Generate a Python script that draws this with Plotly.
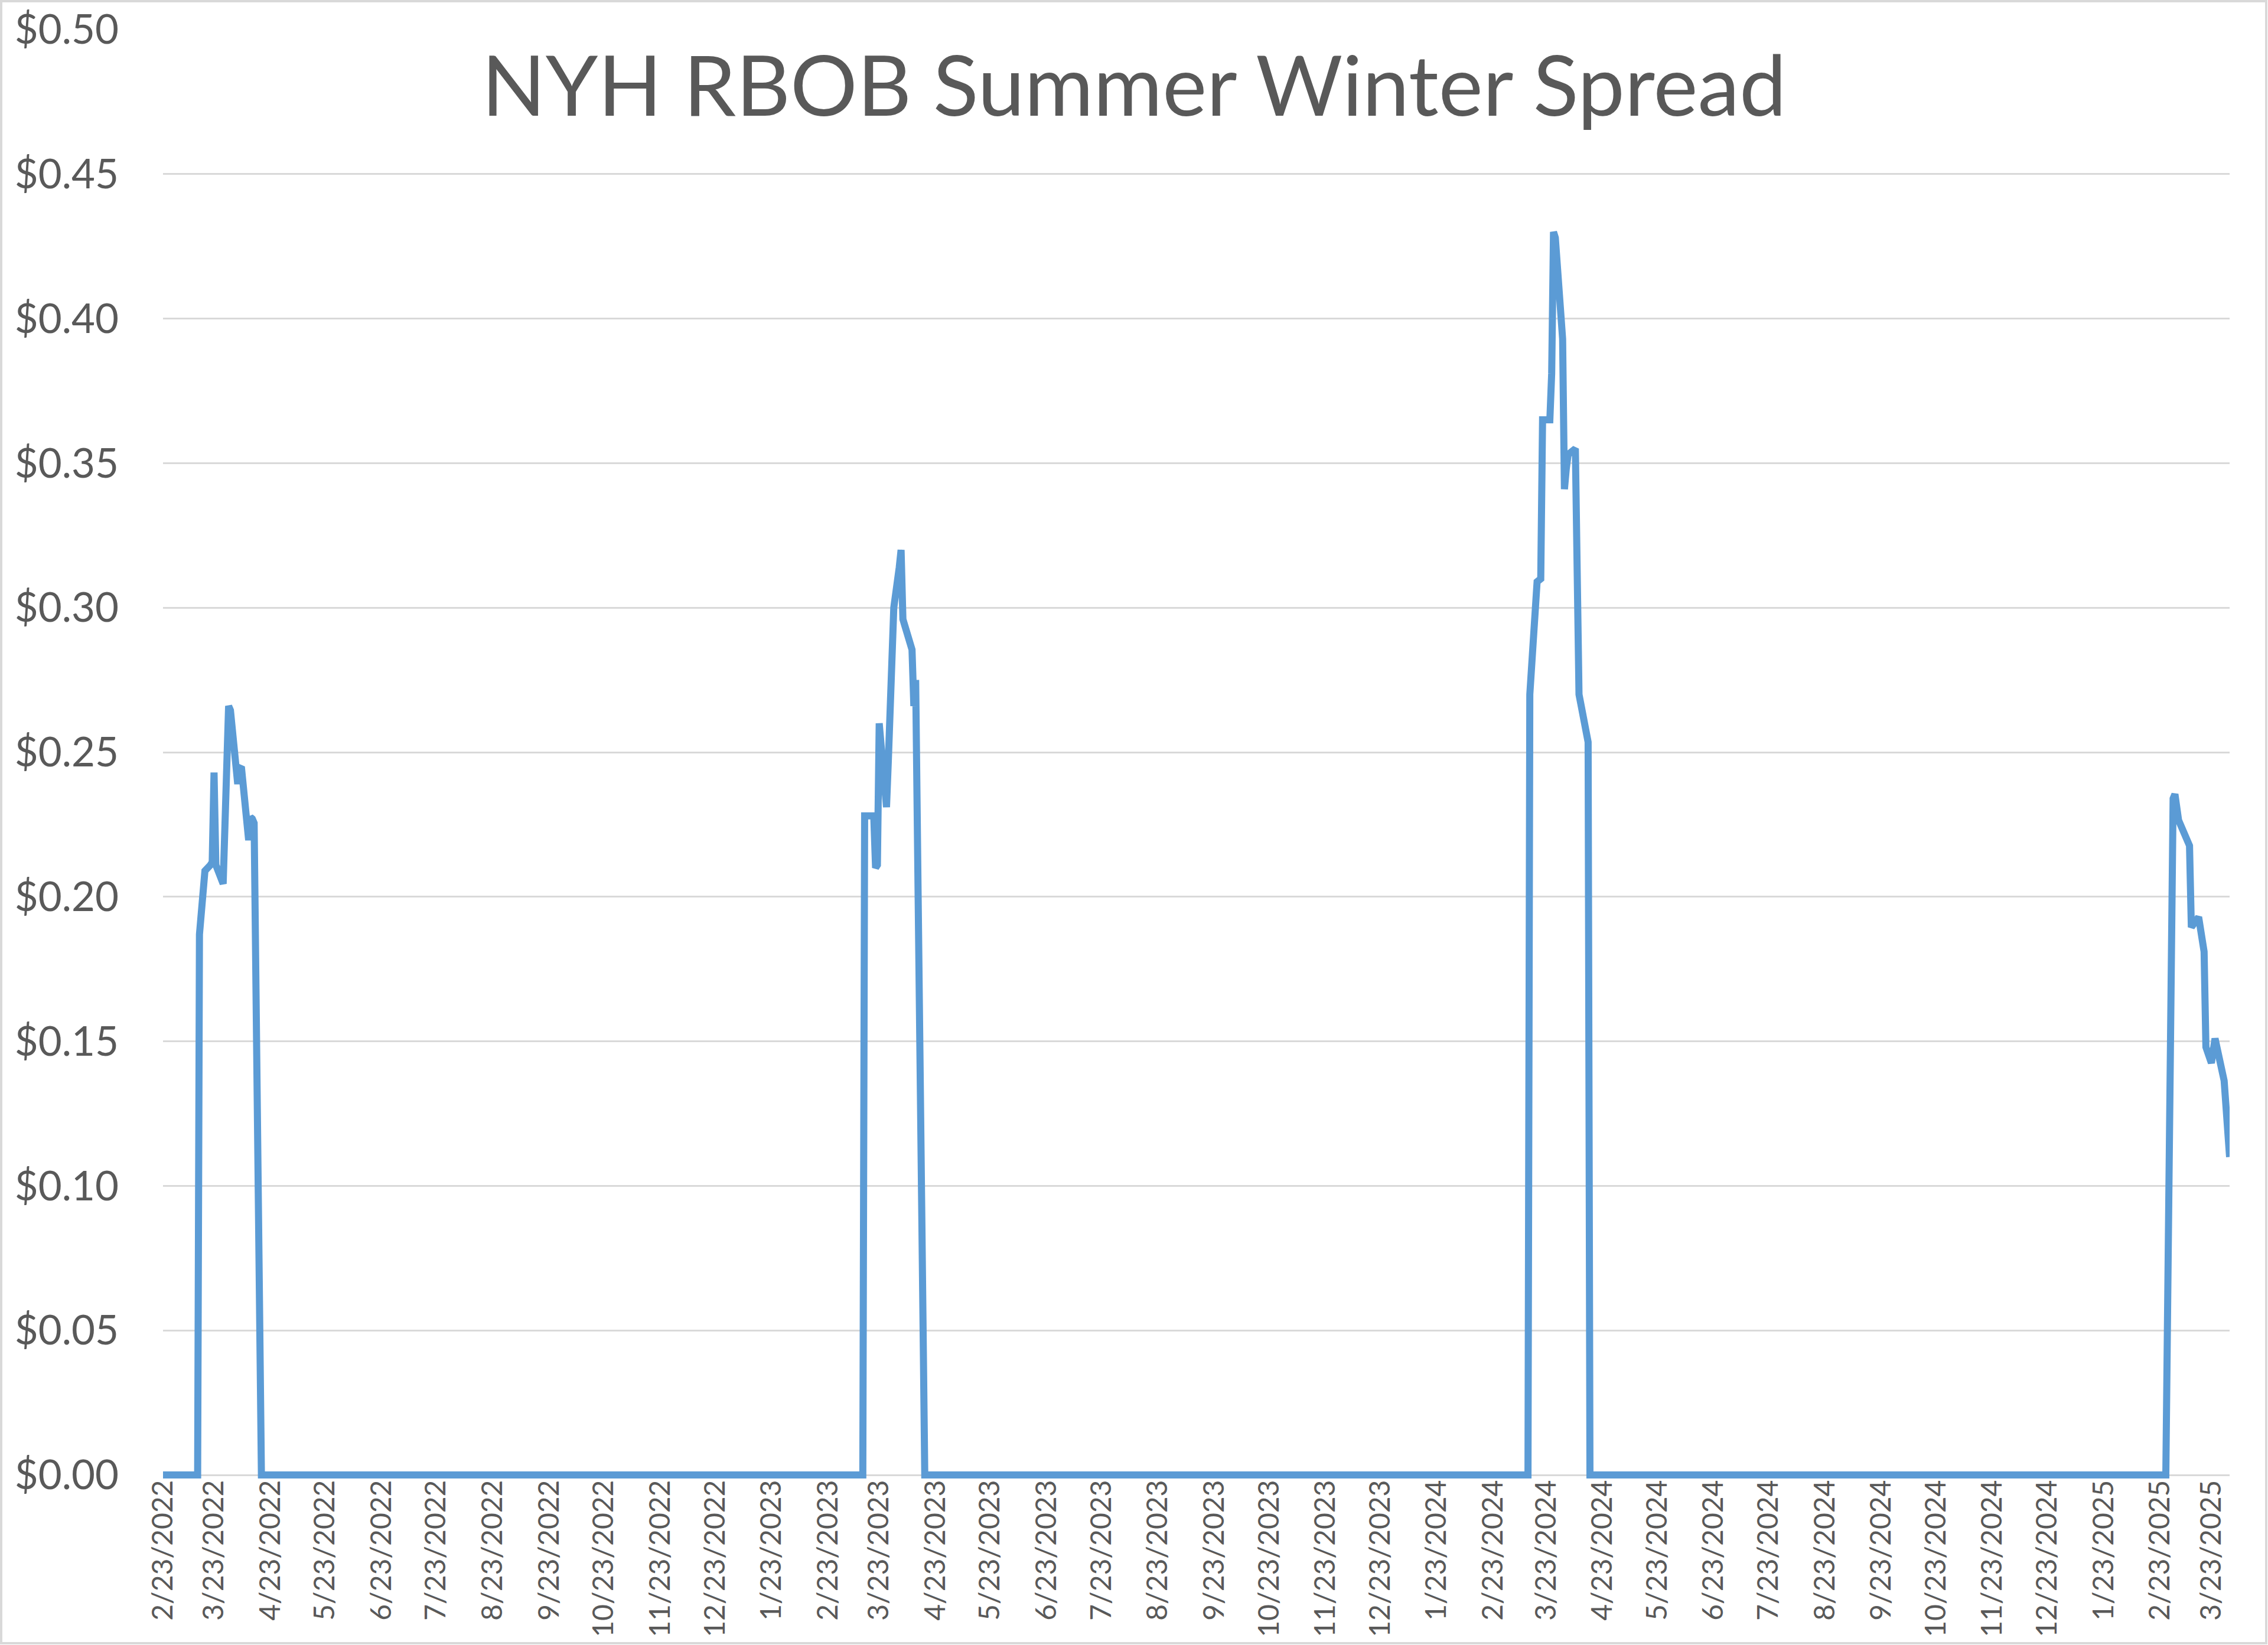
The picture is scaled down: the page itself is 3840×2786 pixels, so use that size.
import plotly.graph_objects as go
from datetime import datetime

# ---------------- data ----------------
dates = [
    "2022-02-23", "2022-03-14", "2022-03-15", "2022-03-16", "2022-03-17", "2022-03-18",
    "2022-03-21", "2022-03-22", "2022-03-23", "2022-03-24", "2022-03-28", "2022-03-31",
    "2022-04-01", "2022-04-04", "2022-04-05", "2022-04-06", "2022-04-07", "2022-04-11",
    "2022-04-12", "2022-04-13", "2022-04-14", "2022-04-18",
    "2023-03-14", "2023-03-15", "2023-03-20", "2023-03-21", "2023-03-22", "2023-03-23",
    "2023-03-27", "2023-03-28", "2023-03-30", "2023-03-31", "2023-04-03", "2023-04-04",
    "2023-04-05", "2023-04-08", "2023-04-10", "2023-04-11", "2023-04-12", "2023-04-17",
    "2024-03-13", "2024-03-14", "2024-03-17", "2024-03-18", "2024-03-20", "2024-03-21",
    "2024-03-25", "2024-03-26", "2024-03-27", "2024-03-28", "2024-04-01", "2024-04-02",
    "2024-04-03", "2024-04-04", "2024-04-08", "2024-04-10", "2024-04-15", "2024-04-16",
    "2025-02-26", "2025-03-01", "2025-03-02", "2025-03-03", "2025-03-05", "2025-03-11",
    "2025-03-12", "2025-03-16", "2025-03-19", "2025-03-20", "2025-03-23", "2025-03-25",
    "2025-03-30", "2025-04-02",
]
spread = [
    0.0, 0.0, 0.187, 0.196, 0.207, 0.209,
    0.211, 0.212, 0.243, 0.211, 0.2045, 0.266,
    0.2645, 0.246, 0.239, 0.2445, 0.245, 0.2196,
    0.2275, 0.227, 0.2255, 0.0,
    0.0, 0.228, 0.228, 0.210, 0.211, 0.260,
    0.231, 0.247, 0.285, 0.300, 0.314, 0.320,
    0.296, 0.290, 0.2855, 0.266, 0.275, 0.0,
    0.0, 0.270, 0.295, 0.309, 0.310, 0.365,
    0.365, 0.381, 0.430, 0.428, 0.393, 0.341,
    0.348, 0.353, 0.355, 0.270, 0.2535, 0.0,
    0.0, 0.2302, 0.234, 0.2355, 0.2265, 0.2177,
    0.1895, 0.193, 0.181, 0.148, 0.1425, 0.151,
    0.1364, 0.110,
]
tick_labels = [
    "2/23/2022", "3/23/2022", "4/23/2022", "5/23/2022", "6/23/2022", "7/23/2022",
    "8/23/2022", "9/23/2022", "10/23/2022", "11/23/2022", "12/23/2022",
    "1/23/2023", "2/23/2023", "3/23/2023", "4/23/2023", "5/23/2023", "6/23/2023",
    "7/23/2023", "8/23/2023", "9/23/2023", "10/23/2023", "11/23/2023", "12/23/2023",
    "1/23/2024", "2/23/2024", "3/23/2024", "4/23/2024", "5/23/2024", "6/23/2024",
    "7/23/2024", "8/23/2024", "9/23/2024", "10/23/2024", "11/23/2024", "12/23/2024",
    "1/23/2025", "2/23/2025", "3/23/2025",
]
x_start, x_end = "2022-02-23", "2025-04-02"
title_text = "NYH RBOB Summer Winter Spread"

# ---------------- layout ----------------
W, H = 3840, 2786
ML, MR, MT, MB = 276, 65, 50, 282
PW, PH = W - ML - MR, H - MT - MB
FONT = "Lato"
GREY = "#595959"

tickvals = [datetime.strptime(t, "%m/%d/%Y").strftime("%Y-%m-%d") for t in tick_labels]

fig = go.Figure(
    go.Scatter(
        x=dates, y=spread, mode="lines",
        line=dict(color="#5B9BD5", width=12),
        hoverinfo="skip",
    )
)

def px_x(p):
    return (p - ML) / PW

def px_y(p):
    return (H - MB - p) / PH

fig.add_shape(
    type="rect", xref="paper", yref="paper",
    x0=px_x(2), x1=px_x(W - 3), y0=px_y(H - 3), y1=px_y(2),
    line=dict(color="#D9D9D9", width=4), fillcolor="rgba(0,0,0,0)", layer="below",
)

fig.update_layout(
    width=W, height=H,
    margin=dict(l=ML, r=MR, t=MT, b=MB, autoexpand=False),
    paper_bgcolor="white", plot_bgcolor="white",
    showlegend=False,
    title=dict(
        text=title_text, x=0.5, xref="container", xanchor="center",
        y=1 - 146 / H, yref="container", yanchor="middle",
        font=dict(family=FONT, size=142, color=GREY),
    ),
    xaxis=dict(
        type="date", range=[x_start, x_end], automargin=False,
        tickmode="array", tickvals=tickvals, ticktext=tick_labels,
        tickangle=-90, tickfont=dict(family=FONT, size=48, color=GREY),
        showgrid=False, zeroline=False, showline=False, ticks="",
        ticklabelstandoff=-8,
    ),
    yaxis=dict(
        range=[-0.0012, 0.5], tick0=0, dtick=0.05, automargin=False,
        tickformat=".2f", tickprefix="$",
        tickfont=dict(family=FONT, size=69, color=GREY),
        showgrid=True, gridcolor="#D9D9D9", gridwidth=3,
        zeroline=False, showline=False, ticks="",
        ticklabelstandoff=74,
    ),
)

fig.write_html(
    "out.html",
    config={"displayModeBar": False},
    post_script="document.body.style.margin='0';document.body.style.overflow='hidden';",
)
